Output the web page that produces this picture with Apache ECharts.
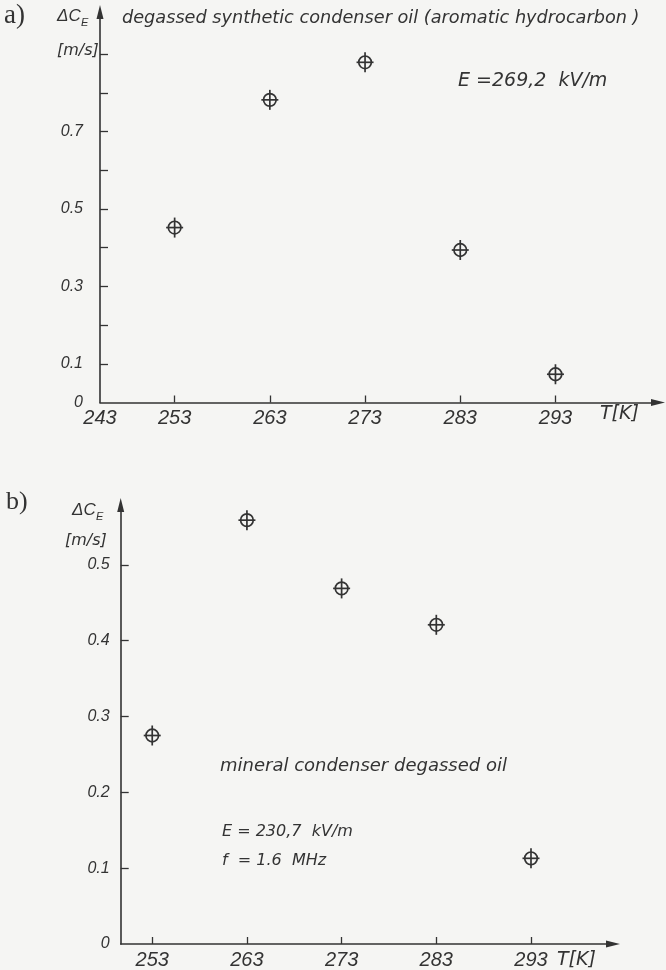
<!DOCTYPE html>
<html>
<head>
<meta charset="utf-8">
<script src="https://cdn.jsdelivr.net/npm/echarts@6/dist/echarts.min.js"></script>
<style>
  html, body { margin: 0; padding: 0; background: #f5f5f3; }
  #chart { width: 666px; height: 970px; }
</style>
</head>
<body>
<div id="chart"></div>
<script>
// ---- data ----
var temperatures = [253, 263, 273, 283, 293];
var deltaCA = [0.452, 0.782, 0.879, 0.394, 0.073];   // degassed synthetic condenser oil
var deltaCB = [0.275, 0.559, 0.469, 0.421, 0.113];   // mineral condenser degassed oil
var xTickValues = [253, 263, 273, 283, 293];
var yTicksA = [0.1, 0.2, 0.3, 0.4, 0.5, 0.6, 0.7, 0.8, 0.9];
var yLabelsA = [0, 0.1, 0.3, 0.5, 0.7];
var yTicksB = [0.1, 0.2, 0.3, 0.4, 0.5];
var yLabelsB = [0, 0.1, 0.2, 0.3, 0.4, 0.5];
var originLabelA = '243';

var INK = '#333333';
var FONT = 'Liberation Sans';
var TFONT = 'DejaVu Sans';

var xMinA = 245.16, xMaxA = 303.77;
var xMinB = 249.67, xMaxB = 301.66;

function pairs(xs, ys) { return xs.map(function (x, i) { return [x, ys[i]]; }); }

function markerRender(params, api) {
  var p = api.coord([api.value(0), api.value(1)]);
  var st = { stroke: INK, lineWidth: 1.7, fill: 'none' };
  return {
    type: 'group',
    children: [
      { type: 'circle', shape: { cx: p[0], cy: p[1], r: 6.3 }, style: st },
      { type: 'line', shape: { x1: p[0] - 8.5, y1: p[1], x2: p[0] + 8.5, y2: p[1] }, style: st },
      { type: 'line', shape: { x1: p[0], y1: p[1] - 10, x2: p[0], y2: p[1] + 10 }, style: st }
    ]
  };
}

function xAxisDef(gi, mn, mx, labelVals, showOrigin) {
  return {
    type: 'value', gridIndex: gi, min: mn, max: mx,
    axisLine: { show: true, lineStyle: { color: INK, width: 1.6 }, symbol: ['none', 'triangle'], symbolSize: [7, 14] },
    axisTick: { show: true, inside: true, length: 7, lineStyle: { color: INK, width: 1.3 }, customValues: xTickValues },
    axisLabel: {
      show: true, customValues: labelVals, margin: 6,
      fontFamily: FONT, fontStyle: 'italic', fontSize: 20, color: INK,
      formatter: function (v) { return (showOrigin && Math.abs(v - mn) < 0.01) ? originLabelA : String(Math.round(v)); }
    },
    splitLine: { show: false }
  };
}

function yAxisDef(gi, mx, tickVals, labelVals, margin) {
  return {
    type: 'value', gridIndex: gi, min: 0, max: mx,
    axisLine: { show: true, lineStyle: { color: INK, width: 1.6 }, symbol: ['none', 'triangle'], symbolSize: [7, 14] },
    axisTick: { show: true, inside: true, length: 8, lineStyle: { color: INK, width: 1.3 }, customValues: tickVals },
    axisLabel: {
      show: true, customValues: labelVals, margin: margin,
      fontFamily: FONT, fontStyle: 'italic', fontSize: 16, color: INK,
      formatter: function (v) { return v === 0 ? '0' : v.toFixed(1); }
    },
    splitLine: { show: false }
  };
}

function txt(left, cy, text, size, family, style) {
  return {
    type: 'text', left: left, top: cy - size * 0.6,
    style: { text: text, fill: INK, font: (style || 'italic') + ' ' + size + 'px "' + (family || TFONT) + '"' }
  };
}

var chart = echarts.init(document.getElementById('chart'), null, { renderer: 'canvas' });
chart.setOption({
  backgroundColor: '#f5f5f3',
  animation: false,
  grid: [
    { left: 100, top: 12, width: 558, height: 390.5 },
    { left: 120.7, top: 505, width: 492.3, height: 442 }
  ],
  xAxis: [
    xAxisDef(0, xMinA, xMaxA, [xMinA].concat(xTickValues), true),
    xAxisDef(1, xMinB, xMaxB, xTickValues, false)
  ],
  yAxis: [
    yAxisDef(0, 1.009, yTicksA, yLabelsA, 17),
    yAxisDef(1, 0.579, yTicksB, yLabelsB, 11)
  ],
  series: [
    { type: 'custom', xAxisIndex: 0, yAxisIndex: 0, data: pairs(temperatures, deltaCA), renderItem: markerRender, clip: false },
    { type: 'custom', xAxisIndex: 1, yAxisIndex: 1, data: pairs(temperatures, deltaCB), renderItem: markerRender, clip: false }
  ],
  graphic: [
    txt(4, 19, 'a)', 27, 'Liberation Serif', 'normal'),
    txt(57, 18, 'ΔC', 17, FONT),
    txt(81, 24, 'E', 11, FONT),
    txt(57, 52, '[m/s]', 16),
    txt(122, 20, 'degassed synthetic condenser oil (aromatic hydrocarbon )', 17.7),
    txt(458, 83, 'E =269,2  kV/m', 19),
    txt(600, 416, 'T[K]', 19),

    txt(6, 505, 'b)', 26, 'Liberation Serif', 'normal'),
    txt(72, 512, 'ΔC', 17, FONT),
    txt(96, 518, 'E', 11, FONT),
    txt(65, 542, '[m/s]', 16),
    txt(220, 768, 'mineral condenser degassed oil', 18),
    txt(222, 833, 'E = 230,7  kV/m', 16),
    txt(222, 862, 'f  = 1.6  MHz', 16),
    txt(557, 962, 'T[K]', 19)
  ]
});
</script>
</body>
</html>
